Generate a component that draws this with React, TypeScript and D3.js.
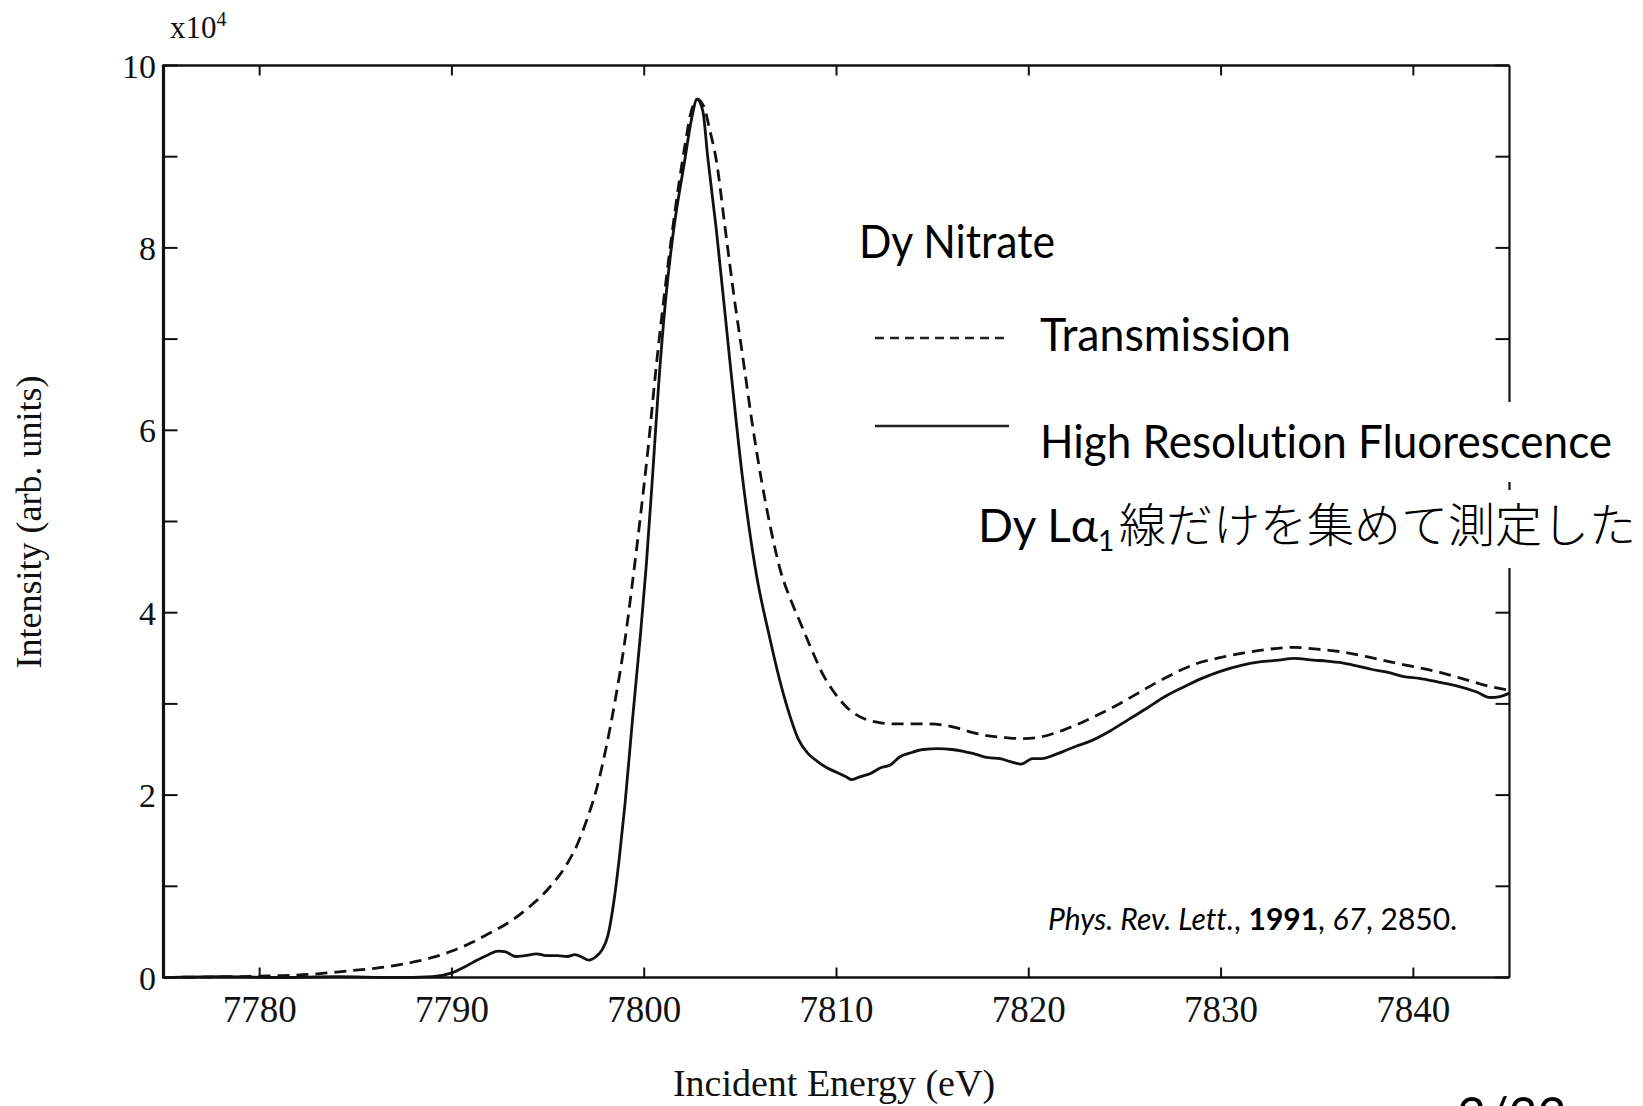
import React from 'react';
import * as d3 from 'd3';

const W = 1643;
const H = 1106;

// Energy axis (eV) and intensity (x10^4 arb. units)
const xDomain = [7775, 7845];
const yDomain = [0, 10];
const xTickValues = [7780, 7790, 7800, 7810, 7820, 7830, 7840];
const yLabelValues = [0, 2, 4, 6, 8, 10];
const yTickValues = [0, 1, 2, 3, 4, 5, 6, 7, 8, 9, 10];

// Transmission (dashed)
const transmissionEnergy = [
  7775, 7777, 7779, 7781, 7783, 7784, 7785, 7786, 7787, 7788, 7789, 7790, 7791, 7792, 7793, 7794, 7795, 7796,
  7796.5, 7797, 7797.5, 7798, 7798.5, 7799, 7799.4, 7799.8, 7800.2, 7800.6, 7801.2, 7801.6, 7802.1, 7802.45,
  7802.75, 7803.1, 7803.4, 7803.75, 7804.2, 7804.65, 7805.15, 7805.6, 7806.1, 7806.6, 7807.1, 7807.6, 7808.1,
  7808.8, 7809.3, 7809.8, 7810.5, 7811.3, 7812.1, 7813, 7814, 7814.8, 7815.5, 7816.2, 7817, 7817.9, 7818.8,
  7819.6, 7820.4, 7821.2, 7822, 7822.7, 7823.6, 7824.7, 7825.7, 7826.7, 7827.7, 7828.7, 7830, 7831.2, 7832.5,
  7833.8, 7835, 7836.3, 7837.5, 7838.8, 7840, 7841.3, 7842.5, 7843.8, 7845,
];
const transmissionIntensity = [
  0.0, 0.005, 0.01, 0.02, 0.04, 0.06, 0.08, 0.1, 0.13, 0.17, 0.22, 0.29, 0.38, 0.49, 0.61, 0.77, 0.97, 1.25,
  1.45, 1.72, 2.05, 2.5, 3.05, 3.7, 4.35, 5.05, 5.8, 6.65, 7.75, 8.4, 9.1, 9.5,
  9.63, 9.55, 9.3, 8.96, 8.23, 7.5, 6.77, 6.1, 5.45, 4.9, 4.45, 4.15, 3.9,
  3.55, 3.32, 3.15, 2.97, 2.85, 2.8, 2.78, 2.78, 2.78, 2.77, 2.74, 2.69, 2.65, 2.63,
  2.62, 2.63, 2.67, 2.73, 2.79, 2.88, 3.0, 3.12, 3.24, 3.35, 3.44, 3.51, 3.56, 3.6,
  3.62, 3.6, 3.57, 3.52, 3.46, 3.41, 3.35, 3.28, 3.2, 3.15,
];

// High resolution fluorescence (solid)
const fluorescenceEnergy = [
  7775, 7778, 7781, 7784, 7787, 7789, 7790, 7790.7, 7791.3, 7791.9, 7792.4, 7792.8, 7793.3, 7793.8, 7794.4,
  7794.9, 7795.5, 7796, 7796.4, 7796.8, 7797.1, 7797.5, 7797.8, 7798.1, 7798.4, 7798.7, 7799, 7799.4, 7799.8,
  7800.1, 7800.45, 7800.75, 7801.1, 7801.5, 7802.1, 7802.45, 7802.75, 7803.05, 7803.3, 7803.75, 7804.45,
  7805.1, 7805.85, 7806.5, 7807, 7807.5, 7808, 7808.5, 7809, 7809.5, 7810, 7810.5, 7810.8, 7811.2, 7811.8,
  7812.3, 7812.8, 7813.3, 7813.8, 7814.5, 7815.3, 7816, 7816.6, 7817.2, 7817.9, 7818.5, 7819, 7819.6, 7820.2,
  7820.7, 7821.2, 7821.8, 7822.4, 7823.3, 7824.2, 7825.2, 7826.2, 7827, 7828, 7829, 7830, 7831, 7832, 7833,
  7833.8, 7834.8, 7835.5, 7836.3, 7837, 7837.8, 7838.8, 7839.5, 7840.3, 7841.3, 7842.2, 7843.3, 7844, 7844.5,
  7845,
];
const fluorescenceIntensity = [
  0.0, 0.01, 0.0, 0.01, 0.0, 0.01, 0.05, 0.12, 0.19, 0.25, 0.29, 0.28, 0.23, 0.24, 0.26,
  0.24, 0.24, 0.23, 0.25, 0.22, 0.19, 0.23, 0.3, 0.45, 0.8, 1.3, 1.9, 2.85, 3.75,
  4.5, 5.55, 6.5, 7.4, 8.15, 8.95, 9.4, 9.63, 9.5, 9.0, 8.2, 6.77,
  5.5, 4.4, 3.75, 3.3, 2.92, 2.62, 2.46, 2.37, 2.3, 2.25, 2.2, 2.17, 2.2, 2.24,
  2.3, 2.33, 2.42, 2.46, 2.5, 2.51, 2.5, 2.48, 2.45, 2.41, 2.4, 2.37, 2.34, 2.4,
  2.4, 2.43, 2.48, 2.53, 2.6, 2.7, 2.83, 2.96, 3.07, 3.18, 3.28, 3.36, 3.42, 3.46, 3.48,
  3.5, 3.48, 3.47, 3.45, 3.42, 3.38, 3.34, 3.3, 3.28, 3.24, 3.2, 3.13, 3.07, 3.08,
  3.12,
];

const SERIF = '"Liberation Serif", "DejaVu Serif", serif';
const SANS = 'Lato, "Open Sans", sans-serif';
const CJK = '"Noto Sans CJK JP", sans-serif';
const noLig = { fontVariantLigatures: 'none' as const, fontKerning: 'normal' as const };

export default function App() {
  const x = d3.scaleLinear().domain(xDomain).range([163.5, 1509.5]);
  const y = d3.scaleLinear().domain(yDomain).range([977.5, 65.5]);
  const line = d3
    .line<[number, number]>()
    .x((d) => x(d[0]))
    .y((d) => y(d[1]))
    .curve(d3.curveMonotoneX);

  const tData: [number, number][] = transmissionEnergy.map((e, i) => [e, transmissionIntensity[i]]);
  const fData: [number, number][] = fluorescenceEnergy.map((e, i) => [e, fluorescenceIntensity[i]]);

  const [x0, x1] = x.range();
  const [y0, y1] = y.range();

  return (
    <svg
      width={W}
      height={H}
      viewBox={`0 0 ${W} ${H}`}
      style={{ position: 'absolute', left: 0, top: 0, display: 'block', background: '#fff' }}
    >
      <rect x={0} y={0} width={W} height={H} fill="#fff" />

      {/* frame */}
      <line x1={x0} x2={x0} y1={y1 - 1} y2={y0 + 1} stroke="#111" strokeWidth={3.2} />
      <line x1={x0} x2={x1} y1={y0} y2={y0} stroke="#111" strokeWidth={2.4} />
      <line x1={x0} x2={x1} y1={y1} y2={y1} stroke="#111" strokeWidth={2.4} />
      <line x1={x1} x2={x1} y1={y1} y2={y0} stroke="#111" strokeWidth={2.2} />

      {/* x ticks */}
      {xTickValues.map((v) => (
        <g key={'xt' + v}>
          <line x1={x(v)} x2={x(v)} y1={y0} y2={y0 - 10} stroke="#111" strokeWidth={2} />
          <line x1={x(v)} x2={x(v)} y1={y1} y2={y1 + 10} stroke="#111" strokeWidth={2} />
          <text x={x(v)} y={1022} textAnchor="middle" fontFamily={SERIF} fontSize={37} fill="#111">
            {v}
          </text>
        </g>
      ))}

      {/* y ticks */}
      {yTickValues.map((v) => (
        <g key={'yt' + v}>
          <line x1={x0} x2={x0 + 14} y1={y(v)} y2={y(v)} stroke="#111" strokeWidth={2} />
          <line x1={x1} x2={x1 - 14} y1={y(v)} y2={y(v)} stroke="#111" strokeWidth={2} />
        </g>
      ))}
      {yLabelValues.map((v) => (
        <text
          key={'yl' + v}
          x={156}
          y={y(v) + 12}
          textAnchor="end"
          fontFamily={SERIF}
          fontSize={34}
          fill="#111"
        >
          {v}
        </text>
      ))}

      {/* x10^4 */}
      <text x={170} y={38} fontFamily={SERIF} fontSize={31} fill="#111">
        x10
        <tspan dy={-12} fontSize={20}>
          4
        </tspan>
      </text>

      {/* curves */}
      <path d={line(tData) || ''} fill="none" stroke="#111" strokeWidth={2.8} strokeDasharray="12 7" />
      <path d={line(fData) || ''} fill="none" stroke="#111" strokeWidth={2.8} />

      {/* axis titles */}
      <text x={834} y={1096} textAnchor="middle" fontFamily={SERIF} fontSize={38} fill="#111">
        Incident Energy (eV)
      </text>
      <text
        transform="translate(41,522) rotate(-90)"
        textAnchor="middle"
        fontFamily={SERIF}
        fontSize={36}
        fill="#111"
      >
        Intensity (arb. units)
      </text>

      {/* legend / annotations */}
      <text x={859} y={258} fontFamily={SANS} fontSize={46} fill="#000" style={noLig} textLength={196} lengthAdjust="spacingAndGlyphs">
        Dy Nitrate
      </text>
      <line x1={875} x2={1009} y1={338} y2={338} stroke="#222" strokeWidth={2.4} strokeDasharray="9 6" />
      <text x={1040} y={351} fontFamily={SANS} fontSize={46} fill="#000" style={noLig} textLength={251} lengthAdjust="spacingAndGlyphs">
        Transmission
      </text>

      <rect x={1030} y={402} width={595} height={80} fill="#fff" />
      <line x1={875} x2={1009} y1={426} y2={426} stroke="#222" strokeWidth={2.6} />
      <text x={1040} y={458} fontFamily={SANS} fontSize={46} fill="#000" style={noLig} textLength={572} lengthAdjust="spacingAndGlyphs">
        High Resolution Fluorescence
      </text>

      <rect x={970} y={490} width={673} height={78} fill="#fff" />
      <text x={978} y={542} fontFamily={SANS} fontSize={46} fill="#000" style={noLig}>
        Dy Lα
        <tspan dy={9} fontSize={28}>
          1
        </tspan>
      </text>
      <text x={1119} y={542} fontFamily={CJK} fontSize={47} fontWeight={300} fill="#000">
        線だけを集めて測定した
      </text>

      <text x={1048} y={930} fontFamily={SANS} fontSize={30} fill="#000" style={noLig}>
        <tspan fontStyle="italic">Phys. Rev. Lett.</tspan>
        <tspan>, </tspan>
        <tspan fontWeight="bold">1991</tspan>
        <tspan>, </tspan>
        <tspan fontStyle="italic">67</tspan>
        <tspan>, 2850.</tspan>
      </text>

      {/* page number, mostly cut off at the bottom edge as in the source */}
      <text x={1457} y={1133} fontFamily={SANS} fontSize={50} fill="#000">
        3/33
      </text>
    </svg>
  );
}
